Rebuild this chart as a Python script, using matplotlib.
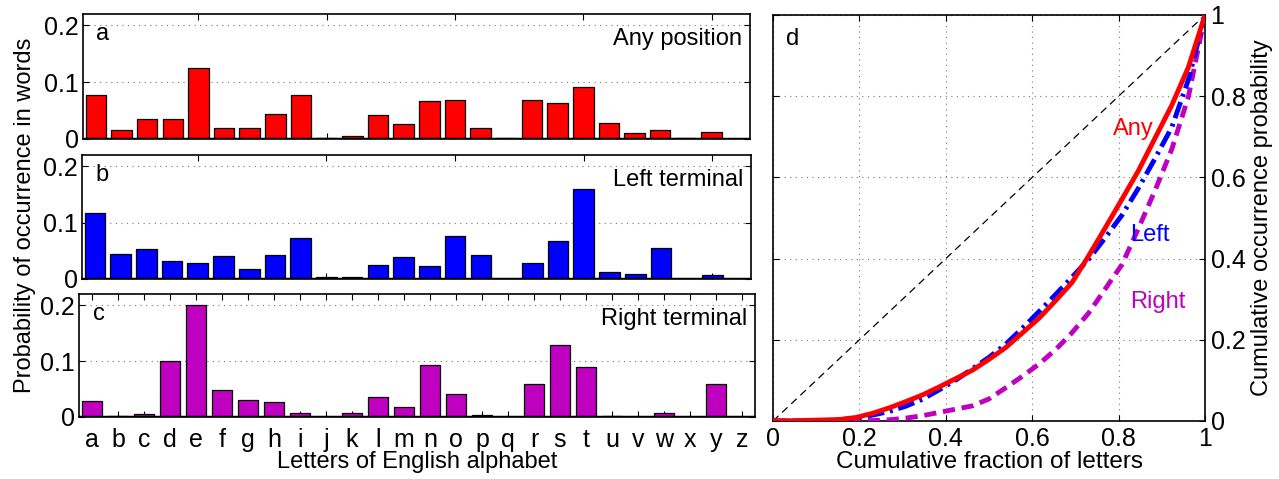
import numpy as np
import matplotlib

matplotlib.use("Agg")

import matplotlib.pyplot as plt

plt.rcParams["font.family"] = ["Liberation Sans", "DejaVu Sans"]

letters = list("abcdefghijklmnopqrstuvwxyz")

# probability of each letter
any_pos = [0.078, 0.015, 0.035, 0.035, 0.125, 0.020, 0.019, 0.044, 0.078, 0.001,
           0.005, 0.042, 0.026, 0.067, 0.069, 0.020, 0.001, 0.068, 0.064, 0.091,
           0.028, 0.010, 0.016, 0.001, 0.013, 0.0005]
left_term = [0.117, 0.044, 0.053, 0.032, 0.028, 0.041, 0.017, 0.042, 0.073, 0.004,
             0.003, 0.024, 0.039, 0.023, 0.076, 0.043, 0.0, 0.028, 0.067, 0.159,
             0.013, 0.009, 0.055, 0.0, 0.0075, 0.0]
right_term = [0.028, 0.001, 0.006, 0.100, 0.200, 0.048, 0.030, 0.027, 0.008, 0.0,
              0.008, 0.035, 0.017, 0.093, 0.042, 0.004, 0.0, 0.059, 0.128, 0.089,
              0.002, 0.0, 0.008, 0.0, 0.059, 0.0]

panel_tags = ["a", "b", "c"]
panel_titles = ["Any position", "Left terminal", "Right terminal"]

W, H = 1279, 479
fig = plt.figure(figsize=(W / 100, H / 100), dpi=100)

FS = 17
TICK_FS = 18
grid_style = dict(linestyle=(0, (1, 4)), color="#777777", lw=0.8)


def px_axes(x0, x1, y0, y1):
    return fig.add_axes([x0 / W, 1 - y1 / H, (x1 - x0) / W, (y1 - y0) / H])


boxes = [(83, 750, 14, 139), (82, 751, 155, 279), (79, 755, 294, 417)]
colors = ["#ff0000", "#0000ff", "#c000c0"]
series = [any_pos, left_term, right_term]
xpos = np.arange(1, 27)

for i, (box, vals, col) in enumerate(zip(boxes, series, colors)):
    ax = px_axes(*box)
    ax.bar(xpos, vals, width=0.8, color=col, edgecolor="black", linewidth=0.9, zorder=3)
    ax.axhline(0, color="black", lw=2.5, zorder=4)
    ax.set_xlim(0.5, 26.5)
    ax.set_ylim(0, 0.22)
    ax.set_yticks([0, 0.1, 0.2])
    ax.set_yticklabels(["0", "0.1", "0.2"])
    ax.yaxis.grid(True, **grid_style)
    ax.tick_params(direction="in", labelsize=TICK_FS, length=4, top=True, right=True, pad=3)
    if i < 2:
        ax.set_xticks([5, 10, 15, 20, 25])
        ax.set_xticklabels([])
    else:
        ax.set_xticks(xpos)
        ax.set_xticklabels(letters)
        ax.tick_params(axis="x", pad=8)
        ax.set_xlabel("Letters of English alphabet", fontsize=FS, labelpad=-1)
    for s in ax.spines.values():
        s.set_linewidth(1.2)
    ax.text(0.02, 0.84, panel_tags[i], transform=ax.transAxes, fontsize=FS, va="center")
    ax.text(0.988, 0.8, panel_titles[i], transform=ax.transAxes, fontsize=FS,
            ha="right", va="center")

fig.text(25 / W, 1 - 215 / H, "Probability of occurrence in words", rotation=90,
         fontsize=FS, ha="center", va="center")

# panel d: cumulative curves from the sorted letter probabilities
axd = px_axes(773, 1205, 15, 421)
axd.plot([0, 1], [0, 1], color="black", lw=0.9, linestyle=(0, (6, 4)))
styles = [
    dict(color="#ff0000", lw=3.5, linestyle="-"),
    dict(color="#0000ff", lw=3.5, linestyle=(0, (3.5, 1.2, 0.6, 1.2))),
    dict(color="#c000c0", lw=3.5, linestyle=(0, (2.5, 1.4))),
]
for vals, st in zip(series[::-1], styles[::-1]):
    v = np.sort(np.array(vals))
    xs = np.arange(len(v) + 1) / len(v)
    ys = np.concatenate([[0], np.cumsum(v)]) / v.sum()
    axd.plot(xs, ys, **st, zorder=3)

axd.text(0.833, 0.72, "Any", color="#ff0000", fontsize=FS, ha="center", va="center")
axd.text(0.873, 0.458, "Left", color="#0000ff", fontsize=FS, ha="center", va="center")
axd.text(0.89, 0.293, "Right", color="#c000c0", fontsize=FS, ha="center", va="center")
axd.text(0.03, 0.94, "d", fontsize=FS, va="center")

axd.set_xlim(0, 1)
axd.set_ylim(0, 1)
ticks = [0, 0.2, 0.4, 0.6, 0.8, 1]
tlabels = ["0", "0.2", "0.4", "0.6", "0.8", "1"]
axd.set_xticks(ticks)
axd.set_xticklabels(tlabels)
axd.set_yticks(ticks)
axd.set_yticklabels(tlabels)
axd.yaxis.tick_right()
axd.yaxis.set_label_position("right")
axd.tick_params(direction="in", labelsize=TICK_FS, length=4, top=True, left=True,
                right=True, pad=4)
axd.grid(True, **grid_style)
for s in axd.spines.values():
    s.set_linewidth(1.2)
axd.set_xlabel("Cumulative fraction of letters", fontsize=FS + 0.5, labelpad=0)
axd.set_ylabel("Cumulative occurrence probability", fontsize=FS, labelpad=4)

fig.savefig("out.png", dpi=100)
